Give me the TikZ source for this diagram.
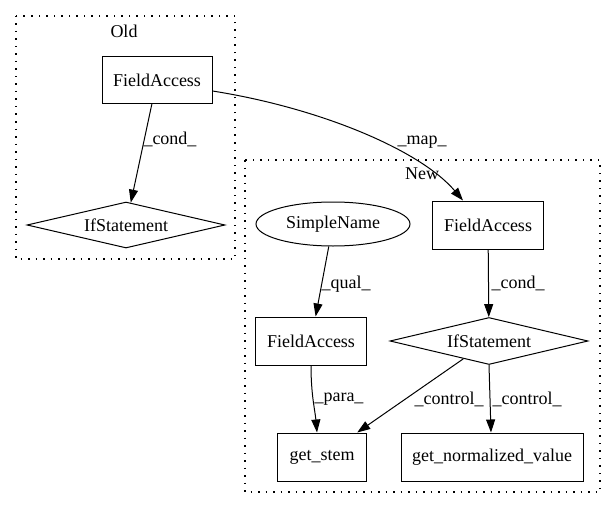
\documentclass[tikz,border=0pt]{standalone}
\usepackage{fontspec}
\setmainfont{Liberation Serif}
\usetikzlibrary{shapes.geometric,arrows.meta}
\begin{document}
\begin{tikzpicture}[x=1pt,y=-1pt,
  every node/.style={font=\fontsize{18}{20}\selectfont},
  box/.style={draw,line width=1pt,rectangle,inner sep=0pt},
  dia/.style={draw,line width=1pt,diamond,aspect=4.3,inner sep=0pt},
  ell/.style={draw,line width=1pt,ellipse,inner sep=0pt},
  cluster/.style={draw,line width=1.3pt,dash pattern=on 1.5pt off 6pt},
  edge/.style={line width=1pt,-{Triangle[length=13pt,width=9pt]}},
  lbl/.style={inner sep=0pt}
]
\useasboundingbox (0,0) rectangle (615,508);
\draw[cluster] (16,16) rectangle (235,259);
\draw[cluster] (245,160) rectangle (600,492);
\node[lbl] (oldlbl) at (124,31) {Old};
\node[lbl] (newlbl) at (422,174) {New};

\node[box,minimum width=110pt,minimum height=47pt] (ofa) at (157,80) {FieldAccess};
\node[dia,minimum width=198pt,minimum height=46pt] (oif) at (126,225) {IfStatement};

\node[box,minimum width=111pt,minimum height=48pt] (nfa) at (488,225) {FieldAccess};
\node[ell,minimum width=154pt,minimum height=44pt] (sn) at (333,224) {SimpleName};
\node[box,minimum width=111pt,minimum height=48pt] (fa2) at (311,341) {FieldAccess};
\node[dia,minimum width=198pt,minimum height=47pt] (nif) at (489,341) {IfStatement};
\node[box,minimum width=89pt,minimum height=48pt] (gs) at (322,457) {get\_stem};
\node[box,minimum width=182pt,minimum height=48pt] (gnv) at (492,457) {get\_normalized\_value};

\draw[edge] (ofa) -- (oif);
\node[lbl] (l1) at (170,139) {\_cond\_};
\draw[edge] (ofa.east |- 0,91) .. controls (320,108) and (420,150) .. ([xshift=-25pt]nfa.north);
\node[lbl] (l2) at (422,142) {\_map\_};
\draw[edge] (sn) -- (fa2);
\node[lbl] (l3) at (346,284) {\_qual\_};
\draw[edge] (nfa) -- (nif);
\node[lbl] (l4) at (518,283) {\_cond\_};
\draw[edge] (fa2.south) .. controls (311,395) and (315,410) .. (gs.north -| 317,0);
\node[lbl] (l5) at (339,399) {\_para\_};
\draw[edge] (nif) -- (gs);
\node[lbl] (l6) at (449,399) {\_control\_};
\draw[edge] (nif.south) -- (gnv.north -| 491,0);
\node[lbl] (l7) at (527,399) {\_control\_};
\end{tikzpicture}
\end{document}
